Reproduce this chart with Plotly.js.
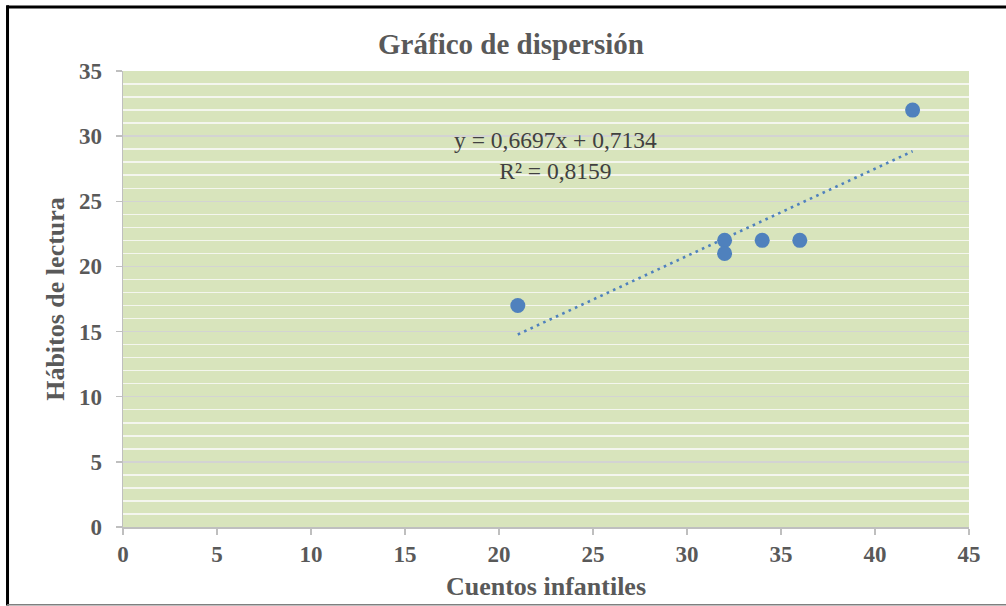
<!DOCTYPE html>
<html>
<head>
<meta charset="utf-8">
<script src="https://cdn.plot.ly/plotly-3.0.1.min.js"></script>
<style>
html,body{margin:0;padding:0;background:#fff;}
#chart{width:1006px;height:606px;}
</style>
</head>
<body>
<div id="chart"></div>
<script>
// Data
const cuentosInfantiles = [21, 32, 32, 34, 36, 42];
const habitosLectura   = [17, 22, 21, 22, 22, 32];

// Trendline as displayed on the chart
const trendSlope = 0.6697;
const trendIntercept = 0.7134;
const trendX = [21, 42];
const trendY = trendX.map(x => trendSlope * x + trendIntercept);

const titleText = "Gráfico de dispersión";
const xTitle = "Cuentos infantiles";
const yTitle = "Hábitos de lectura";
const eqText = "y = 0,6697x + 0,7134<br>R² = 0,8159";

const serif = "'Liberation Serif', 'Times New Roman', serif";
const gray = "#595959";

const traces = [
  {
    x: trendX, y: trendY, type: "scatter", mode: "lines",
    line: {color: "#4f81bd", width: 2.6, dash: "2.6px,4.4px"},
    hoverinfo: "skip", showlegend: false
  },
  {
    x: cuentosInfantiles, y: habitosLectura, type: "scatter", mode: "markers",
    marker: {color: "#4f81bd", size: 15},
    showlegend: false
  }
];

const layout = {
  width: 1006, height: 606,
  margin: {l: 123, r: 37, t: 71, b: 79},
  paper_bgcolor: "#ffffff",
  plot_bgcolor: "#d8e4bc",
  showlegend: false,
  title: {
    text: titleText,
    font: {family: serif, size: 29, color: gray, weight: "bold"},
    x: 0.4586, xref: "paper", xanchor: "center",
    y: 0.927, yref: "container", yanchor: "middle"
  },
  xaxis: {
    range: [0, 45], dtick: 5, tick0: 0,
    showgrid: false, zeroline: false,
    showline: true, linecolor: "#bfbfbf", linewidth: 1.5,
    ticks: "outside", ticklen: 6, tickcolor: "#bfbfbf", tickwidth: 1.5,
    tickfont: {family: serif, size: 23, color: gray, weight: "bold"},
    title: {text: xTitle, font: {family: serif, size: 26, color: gray, weight: "bold"}, standoff: 10},
    fixedrange: true
  },
  yaxis: {
    range: [0, 35], dtick: 5, tick0: 0,
    showgrid: true, gridcolor: "#d3d3d3", gridwidth: 1.5,
    zeroline: false,
    showline: true, linecolor: "#bfbfbf", linewidth: 1.5,
    ticks: "outside", ticklen: 6, tickcolor: "#bfbfbf", tickwidth: 1.5,
    tickfont: {family: serif, size: 23, color: gray, weight: "bold"},
    ticklabelstandoff: 9,
    minor: {dtick: 1, showgrid: true, gridcolor: "#f4f6ee", gridwidth: 1.5, ticks: ""},
    title: {text: yTitle, font: {family: serif, size: 26, color: gray, weight: "bold"}, standoff: 7},
    fixedrange: true
  },
  annotations: [
    {
      text: eqText, x: 23.0, y: 28.55, xref: "x", yref: "y",
      showarrow: false, align: "center",
      font: {family: serif, size: 23.5, color: "#404040"}
    }
  ],
  shapes: [
    {type: "line", xref: "paper", yref: "paper", x0: -0.137, x1: 1.06, y0: 1.1404, y1: 1.1404,
     line: {color: "#000", width: 3}},
    {type: "line", xref: "paper", yref: "paper", x0: -0.1365, x1: -0.1365, y0: 1.144, y1: -0.172,
     line: {color: "#000", width: 3}},
    {type: "line", xref: "paper", yref: "paper", x0: -0.137, x1: 1.06, y0: -0.1705, y1: -0.1705,
     line: {color: "#7f7f7f", width: 1.5}}
  ]
};

Plotly.newPlot("chart", traces, layout, {displayModeBar: false, staticPlot: true});
</script>
</body>
</html>
